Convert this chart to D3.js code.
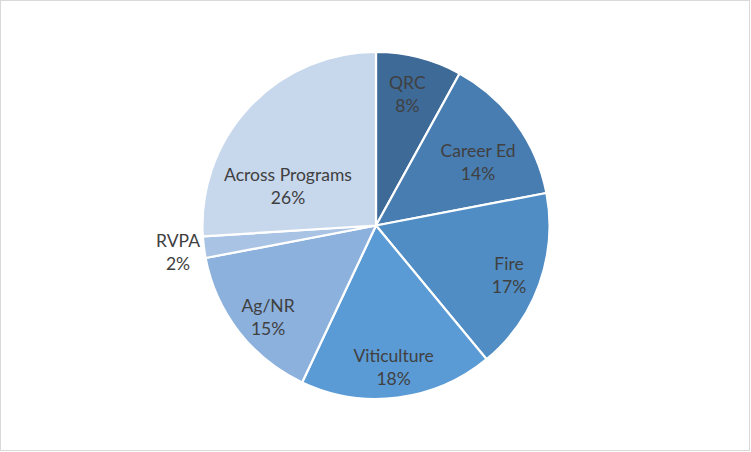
<!DOCTYPE html>
<html>
<head>
<meta charset="utf-8">
<script src="https://cdn.jsdelivr.net/npm/d3@7/dist/d3.min.js"></script>
<style>
  html, body { margin: 0; padding: 0; background: #fff; }
  svg { display: block; }
  text { font-family: Lato, "Open Sans", sans-serif; }
</style>
</head>
<body>
<svg id="chart" width="751" height="452"></svg>
<script>
// ---- data ----
const categories = ["QRC", "Career Ed", "Fire", "Viticulture", "Ag/NR", "RVPA", "Across Programs"];
const values = [8, 14, 17, 18, 15, 2, 26];
const percentLabels = ["8%", "14%", "17%", "18%", "15%", "2%", "26%"];
const colors = ["#3E6A97", "#487DB1", "#4F8DC4", "#5B9BD5", "#8CB1DD", "#A9C3E5", "#C7D7EC"];

// ---- layout (label placement tweaks, in degrees and radius fraction) ----
const labelAngleShift = [-1.0, 3.9, 0.6, 0.1, -2.2, -0.3, -18.8];
const labelRadiusFrac = [0.78, 0.694, 0.818, 0.819, 0.812, 1.151, 0.557];

const W = 751, H = 452;
const cx = 376, cy = 225.5, R = 173.5;

const svg = d3.select("#chart");
svg.append("rect")
  .attr("x", 0.5).attr("y", 0.5)
  .attr("width", W - 2).attr("height", H - 2)
  .attr("fill", "#fff").attr("stroke", "#D9D9D9").attr("stroke-width", 1);

const data = categories.map((c, i) => ({ name: c, value: values[i], pct: percentLabels[i], i }));

const pie = d3.pie().value(d => d.value).sort(null);
const arcs = pie(data);
const arc = d3.arc().innerRadius(0).outerRadius(R);

const g = svg.append("g").attr("transform", `translate(${cx},${cy})`);

g.selectAll("path.slice")
  .data(arcs)
  .join("path")
  .attr("class", "slice")
  .attr("d", arc)
  .attr("fill", d => colors[d.data.i])
  .attr("stroke", "#fff")
  .attr("stroke-width", 2.2)
  .attr("stroke-linejoin", "round");

const lbl = g.selectAll("text.lbl")
  .data(arcs)
  .join("text")
  .attr("class", "lbl")
  .attr("text-anchor", "middle")
  .attr("fill", "#404040")
  .attr("font-size", 17.5)
  .attr("transform", d => {
    const i = d.data.i;
    const a = (d.startAngle + d.endAngle) / 2 + labelAngleShift[i] * Math.PI / 180;
    const r = R * labelRadiusFrac[i];
    return `translate(${r * Math.sin(a)},${-r * Math.cos(a)})`;
  });

lbl.append("tspan").attr("x", 0).attr("y", -4.5).text(d => d.data.name);
lbl.append("tspan").attr("x", 0).attr("y", 18.5).text(d => d.data.pct);
</script>
</body>
</html>
